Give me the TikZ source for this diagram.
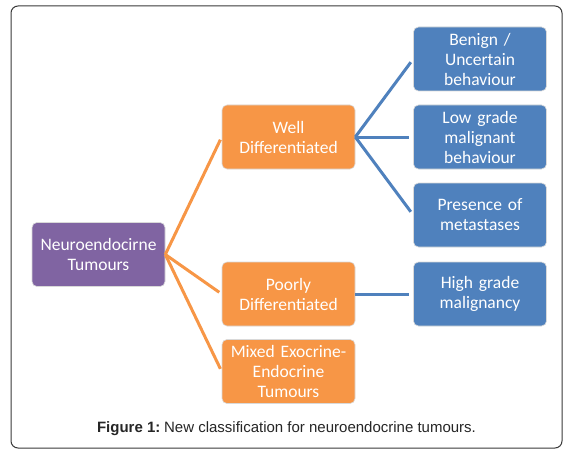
\documentclass[tikz,border=0pt]{standalone}
\usepackage{fontspec}
\setmainfont{Carlito}[WordSpace={0.85,0,0}]
\newfontfamily\capfont{Liberation Sans}
\definecolor{offorange}{HTML}{F79646}
\definecolor{offblue}{HTML}{4F81BD}
\definecolor{offpurple}{HTML}{8064A2}
\definecolor{framegray}{HTML}{3A3A3A}
\begin{document}
\begin{tikzpicture}[x=1pt,y=-1pt,
  box/.style={draw=white!85!black, line width=0.6pt, rounded corners=5pt, minimum width=133pt, minimum height=64pt,
    text width=130pt, align=center, text=white, inner sep=0pt,
    font=\fontsize{17.5}{20}\selectfont},
  obox/.style={box, fill=offorange},
  bbox/.style={box, fill=offblue},
  pbox/.style={box, fill=offpurple},
  oline/.style={draw=offorange, line width=3pt, shorten >=3pt},
  bline/.style={draw=offblue, line width=3pt, shorten >=4pt}]
\useasboundingbox (0,0) rectangle (568,452);
\fill[white] (0,0) rectangle (568,452);
\draw[framegray, line width=1pt, rounded corners=7pt] (11,6) rectangle (562,448);
\node[pbox] (neuro) at (98.5,254.5) {Neuroendocirne\\Tumours};
\node[obox] (well) at (288.5,137) {Well\\Differentiated};
\node[obox] (poorly) at (288.5,294) {Poorly\\Differentiated};
\node[obox] (mixed) at (288.5,371.5) {Mixed Exocrine-\\Endocrine\\Tumours};
\node[bbox] (benign) at (480,59) {Benign /\\Uncertain\\behaviour};
\node[bbox] (low) at (480,137) {Low grade\\malignant\\behaviour};
\node[bbox] (pres) at (480,215) {Presence of\\metastases};
\node[bbox] (high) at (480,294) {High grade\\malignancy};
\draw[oline] (neuro.east) -- (well.west);
\draw[oline] (neuro.east) -- (poorly.west);
\draw[oline] (neuro.east) -- (mixed.west);
\draw[bline] (well.east) -- (benign.west);
\draw[bline] (well.east) -- (low.west);
\draw[bline] (well.east) -- (pres.west);
\draw[bline] (poorly.east) -- (high.west);
\node[font=\capfont\fontsize{15}{18}\selectfont, text=black!85, anchor=base, inner sep=0pt] (cap) at (286.5,432) {\textbf{Figure 1:}\hspace{0.25em}New classification for neuroendocrine tumours.};
\end{tikzpicture}
\end{document}
